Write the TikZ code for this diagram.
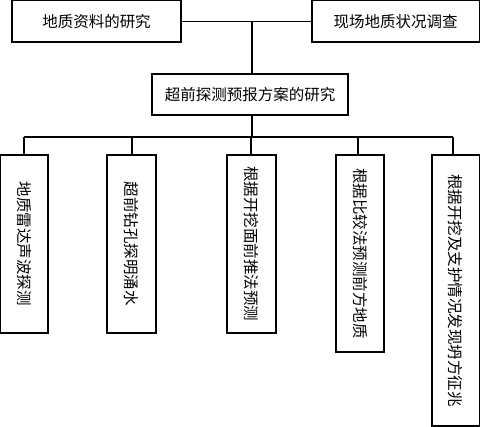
\documentclass[tikz,border=0pt]{standalone}
\usepackage{fontspec}
\newfontfamily\cjk{Noto Sans CJK SC}
\tikzset{
  box/.style={draw=black, line width=1.3pt, fill=white, inner sep=0pt, font=\cjk\fontsize{15.5pt}{18pt}\selectfont},
  conn/.style={draw=black, line width=1.3pt},
}
\begin{document}
\begin{tikzpicture}[x=1pt,y=-1pt]
\useasboundingbox[fill=white] (0,0) rectangle (480,427);
% top row
\node[box, minimum width=169pt, minimum height=41.4pt] (a) at (96.5,21.3) {地质资料的研究};
\node[box, minimum width=167.4pt, minimum height=41.4pt] (b) at (395.7,21.3) {现场地质状况调查};
\node[box, minimum width=196pt, minimum height=41pt] (c) at (250,94.5) {超前探测预报方案的研究};
% bottom row
\node[box, minimum width=47.4pt, minimum height=178pt] (d1) at (24.3,244) {\rotatebox{-90}{地质雷达声波探测}};
\node[box, minimum width=49pt, minimum height=178pt] (d2) at (131.5,244) {\rotatebox{-90}{超前钻孔探明涌水}};
\node[box, minimum width=49pt, minimum height=178pt] (d3) at (251.5,244) {\rotatebox{-90}{根据开挖面前推法预测}};
\node[box, minimum width=48pt, minimum height=197pt] (d4) at (360,253.5) {\rotatebox{-90}{根据比较法预测前方地质}};
\node[box, minimum width=47.4pt, minimum height=271pt] (d5) at (455.7,290.5) {\rotatebox{-90}{根据开挖及支护情况发现坍方征兆}};
% connectors
\coordinate (j) at (252,21);
\coordinate (bar) at (252,137);
\draw[conn] (a.east) -- (b.west);
\draw[conn] (j) -- (j |- c.north);
\draw[conn] (c.south -| bar) -- (bar);
\draw[conn] (24,137) coordinate (bl) -- (453,137) coordinate (br);
\draw[conn] (bl) -- (bl |- d1.north);
\draw[conn] (132,137) coordinate (b2) -- (b2 |- d2.north);
\draw[conn] (251,137) coordinate (b3) -- (b3 |- d3.north);
\draw[conn] (358,137) coordinate (b4) -- (b4 |- d4.north);
\draw[conn] (br) -- (br |- d5.north);
\end{tikzpicture}
\end{document}
